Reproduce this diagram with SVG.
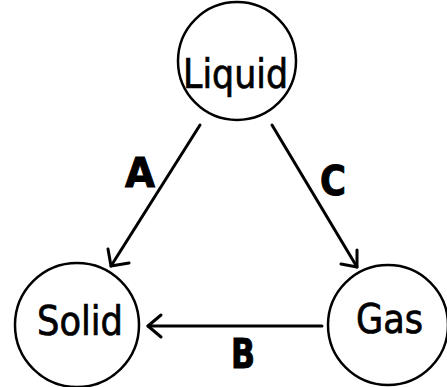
<svg xmlns="http://www.w3.org/2000/svg" width="447" height="387" viewBox="0 0 447 387">
<style>
.node circle{fill:#fff;stroke:#000;stroke-width:2.5}
.node text{font-family:"DejaVu Sans Condensed","DejaVu Sans",sans-serif;font-stretch:condensed;font-size:41px;fill:#000;stroke:#000;stroke-width:0.7;text-anchor:middle}
.edge line,.edge polyline{stroke:#000;stroke-width:3;fill:none;stroke-linecap:round;stroke-linejoin:round}
.lbl{font-family:"DejaVu Sans",sans-serif;font-weight:bold;font-size:41px;fill:#000;stroke:#000;stroke-width:1;text-anchor:middle}
</style>
<rect width="447" height="387" fill="#fff"/>
<g id="connectors" class="edge">
<line x1="200" y1="125" x2="111" y2="266"/>
<polyline points="108,249 111,266 129,263"/>
<line x1="272" y1="125" x2="357" y2="267"/>
<polyline points="341,264 357,267 357,250"/>
<line x1="322" y1="326" x2="148" y2="326"/>
<polyline points="161,315 148,326 161,337"/>
<text class="lbl" x="140" y="187" textLength="30" lengthAdjust="spacingAndGlyphs">A</text>
<text class="lbl" x="333" y="195" textLength="26" lengthAdjust="spacingAndGlyphs">C</text>
<text class="lbl" x="243" y="368" textLength="24" lengthAdjust="spacingAndGlyphs">B</text>
</g>
<g id="liquid" class="node">
<circle cx="237" cy="61" r="59"/>
<text x="235.5" y="88" textLength="105" lengthAdjust="spacingAndGlyphs">Liquid</text>
</g>
<g id="solid" class="node">
<circle cx="77" cy="325" r="62"/>
<text x="80" y="335" textLength="86" lengthAdjust="spacingAndGlyphs">Solid</text>
</g>
<g id="gas" class="node">
<circle cx="388" cy="325" r="60"/>
<text x="389.5" y="333" textLength="67" lengthAdjust="spacingAndGlyphs">Gas</text>
</g>
</svg>
